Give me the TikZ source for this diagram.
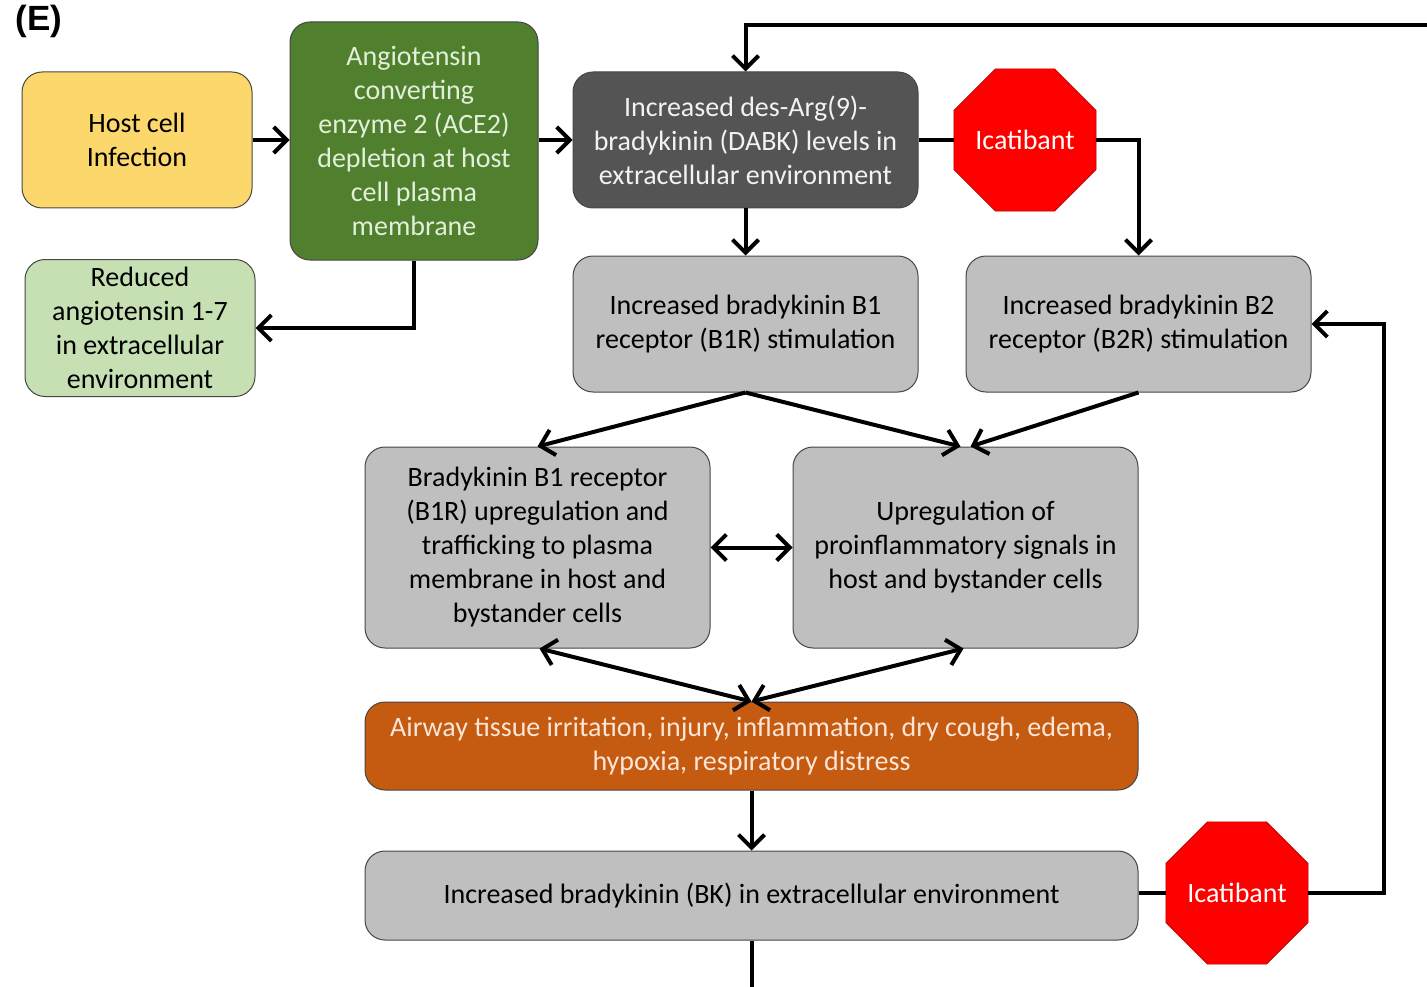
\documentclass[tikz,border=0pt]{standalone}
\usepackage{fontspec}
\setmainfont{Carlito}
\newfontfamily\labelfont{Liberation Sans}
\usetikzlibrary{arrows.meta,shapes.geometric}
\definecolor{cyellow}{RGB}{252,216,108}
\definecolor{cgreen}{RGB}{80,127,46}
\definecolor{clgreen}{RGB}{198,224,180}
\definecolor{cdgray}{RGB}{84,84,84}
\definecolor{clgray}{RGB}{191,191,191}
\definecolor{corange}{RGB}{197,90,17}
\definecolor{cred}{RGB}{255,0,0}
\definecolor{cborder}{RGB}{70,70,70}
\definecolor{cgtext}{RGB}{226,239,218}
\definecolor{cotext}{RGB}{251,229,214}
\tikzset{
  box/.style={draw=cborder, line width=1pt, rounded corners=20pt, align=center,
    inner sep=0pt, font=\fontsize{28}{34}\selectfont},
  stopsign/.style={regular polygon, regular polygon sides=8, minimum size=154pt,
    inner sep=0pt, fill=cred, draw=cred!70!black, line width=0.6pt, text=white,
    font=\fontsize{28}{34}\selectfont},
  conn/.style={line width=4pt, draw=black},
  arr/.style={conn, -{Straight Barb[length=13pt,width=26pt]}},
  darr/.style={conn, {Straight Barb[length=13pt,width=26pt]}-{Straight Barb[length=13pt,width=26pt]}},
}
\begin{document}
\begin{tikzpicture}[x=1pt,y=-1pt]
\useasboundingbox (0,0) rectangle (1427,987);
\node[font=\labelfont\bfseries\fontsize{35}{38}\selectfont] (lab) at (39,21) {(E)};

\node[box, fill=cyellow, minimum width=230pt, minimum height=136pt] (host) at (137,140) {Host cell\\Infection};
\node[box, fill=cgreen, text=cgtext, minimum width=248pt, minimum height=238pt] (ace) at (414,141)
  {Angiotensin\\converting\\enzyme 2 (ACE2)\\depletion at host\\cell plasma\\membrane};
\node[box, fill=clgreen, minimum width=230pt, minimum height=137pt] (red) at (140,328)
  {Reduced\\angiotensin 1-7\\in extracellular\\environment};
\node[box, fill=cdgray, text=white!95!black, minimum width=345pt, minimum height=136pt] (dabk) at (745.5,140)
  {Increased des-Arg(9)-\\bradykinin (DABK) levels in\\extracellular environment};
\node[stopsign] (ica1) at (1025,140) {Icatibant};
\node[box, fill=clgray, minimum width=345pt, minimum height=136pt] (b1r) at (745.5,324)
  {Increased bradykinin B1\\receptor (B1R) stimulation};
\node[box, fill=clgray, minimum width=345pt, minimum height=136pt] (b2r) at (1138.5,324)
  {Increased bradykinin B2\\receptor (B2R) stimulation};
\node[box, fill=clgray, minimum width=345pt, minimum height=201pt] (b1up) at (537.5,547.5)
  {Bradykinin B1 receptor\\(B1R) upregulation and\\trafficking to plasma\\membrane in host and\\bystander cells};
\node[box, fill=clgray, minimum width=345pt, minimum height=201pt] (pro) at (965.5,547.5)
  {Upregulation of\\proinflammatory signals in\\host and bystander cells};
\node[box, fill=corange, text=cotext, minimum width=773pt, minimum height=88pt] (air) at (751.5,746)
  {Airway tissue irritation, injury, inflammation, dry cough, edema,\\hypoxia, respiratory distress};
\node[box, fill=clgray, minimum width=773pt, minimum height=89pt] (bk) at (751.5,895.5)
  {Increased bradykinin (BK) in extracellular environment};
\node[stopsign] (ica2) at (1237,893) {Icatibant};

\coordinate (topright) at (1432,25);
\coordinate (bottomright) at (1432,989);

\draw[arr] (host.east) -- (ace.west |- host.east);
\draw[arr] (ace.east |- dabk.west) -- (dabk.west);
\draw[arr] (ace.south) |- (red.east);
\draw[arr] (topright) -| (dabk.north);
\draw[arr] (dabk.south) -- (b1r.north);
\draw[conn] (dabk.east) -- (dabk.east -| ica1.west);
\draw[arr] (ica1.east) -| (b2r.north);
\draw[arr] (b1r.south) -- (b1up.north);
\draw[arr] (b1r.south) -- ([xshift=-5pt]pro.north);
\draw[arr] (b2r.south) -- ([xshift=5pt]pro.north);
\draw[darr] (b1up.east) -- (pro.west);
\draw[darr] ([xshift=2pt]b1up.south) -- (air.north);
\draw[darr] ([xshift=-2pt]pro.south) -- (air.north);
\draw[arr] (air.south) -- (bk.north);
\draw[conn] (bk.east |- ica2.west) -- (ica2.west);
\draw[arr] (ica2.east) -- ++(76,0) |- (b2r.east);
\draw[conn] (bk.south) |- (bottomright);
\end{tikzpicture}
\end{document}
